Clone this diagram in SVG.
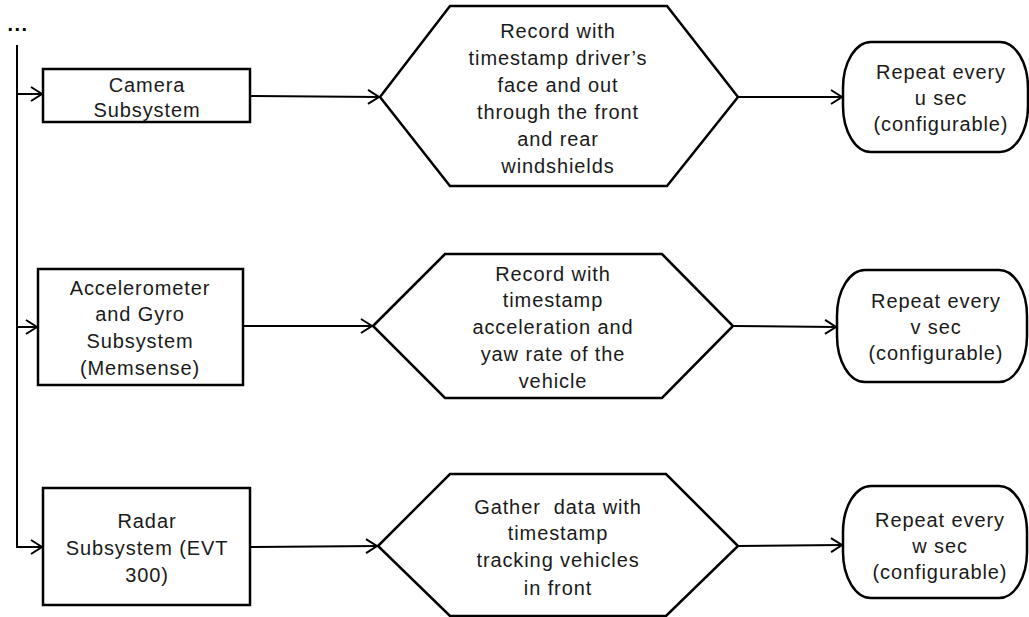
<svg xmlns="http://www.w3.org/2000/svg" width="1029" height="617" viewBox="0 0 1029 617">
<style>
.shape{fill:#fff;stroke:#000;stroke-width:2.5;stroke-linejoin:miter}
.conn{fill:none;stroke:#000;stroke-width:2}
text{font-family:"Liberation Sans",Arial,sans-serif;font-size:20px;fill:#1a1a1a;text-anchor:middle;letter-spacing:0.9px}
</style>
<defs>
<marker id="arr" markerWidth="14" markerHeight="16" refX="12" refY="8" orient="auto" markerUnits="userSpaceOnUse">
<path d="M1,1 L12,8 L1,15" fill="none" stroke="#000" stroke-width="2"/>
</marker>
</defs>
<text x="18" y="31" style="font-weight:bold;letter-spacing:1.5px;fill:#000">...</text>
<g id="connectors">
<path class="conn" d="M17,45 L17,547 L42,547" marker-end="url(#arr)"/>
<path class="conn" d="M17,94 L42,94" marker-end="url(#arr)"/>
<path class="conn" d="M17,327 L37,327" marker-end="url(#arr)"/>
<path class="conn" d="M250,96 L379,97" marker-end="url(#arr)"/>
<path class="conn" d="M738,97 L842,97" marker-end="url(#arr)"/>
<path class="conn" d="M243,326 L372,326" marker-end="url(#arr)"/>
<path class="conn" d="M733,326 L836,327" marker-end="url(#arr)"/>
<path class="conn" d="M250,547 L377,546" marker-end="url(#arr)"/>
<path class="conn" d="M738,546 L842,545" marker-end="url(#arr)"/>
</g>
<g id="camera">
<rect class="shape" x="43" y="69" width="207" height="53"/>
<text x="147" y="92">Camera</text>
<text x="147" y="117">Subsystem</text>
</g>
<g id="record1">
<polygon class="shape" points="380,97 450,6 667,6 738,97 667,186 450,186"/>
<text x="558" y="38">Record with</text>
<text x="558" y="65">timestamp driver’s</text>
<text x="558" y="92">face and out</text>
<text x="558" y="119">through the front</text>
<text x="558" y="146">and rear</text>
<text x="558" y="173">windshields</text>
</g>
<g id="repeat1">
<rect class="shape" x="843" y="42" width="185" height="110" rx="28" ry="46"/>
<text x="941" y="79">Repeat every</text>
<text x="941" y="105">u sec</text>
<text x="941" y="131">(configurable)</text>
</g>
<g id="accel">
<rect class="shape" x="38" y="269" width="205" height="116"/>
<text x="140" y="295">Accelerometer</text>
<text x="140" y="321">and Gyro</text>
<text x="140" y="348">Subsystem</text>
<text x="140" y="375">(Memsense)</text>
</g>
<g id="record2">
<polygon class="shape" points="373,326 445,254 662,254 733,326 662,398 445,398"/>
<text x="553" y="281">Record with</text>
<text x="553" y="307">timestamp</text>
<text x="553" y="334">acceleration and</text>
<text x="553" y="361">yaw rate of the</text>
<text x="553" y="388">vehicle</text>
</g>
<g id="repeat2">
<rect class="shape" x="837" y="270" width="190" height="112" rx="28" ry="46"/>
<text x="936" y="308">Repeat every</text>
<text x="936" y="334">v sec</text>
<text x="936" y="360">(configurable)</text>
</g>
<g id="radar">
<rect class="shape" x="43" y="488" width="207" height="117"/>
<text x="147" y="528">Radar</text>
<text x="147" y="555">Subsystem (EVT</text>
<text x="147" y="582">300)</text>
</g>
<g id="gather">
<polygon class="shape" points="378,546 450,474 666,474 738,546 666,616 450,616"/>
<text x="558" y="514" style="white-space:pre">Gather  data with</text>
<text x="558" y="540">timestamp</text>
<text x="558" y="567">tracking vehicles</text>
<text x="558" y="595">in front</text>
</g>
<g id="repeat3">
<rect class="shape" x="843" y="486" width="184" height="112" rx="28" ry="46"/>
<text x="940" y="527">Repeat every</text>
<text x="940" y="553">w sec</text>
<text x="940" y="579">(configurable)</text>
</g>
</svg>
